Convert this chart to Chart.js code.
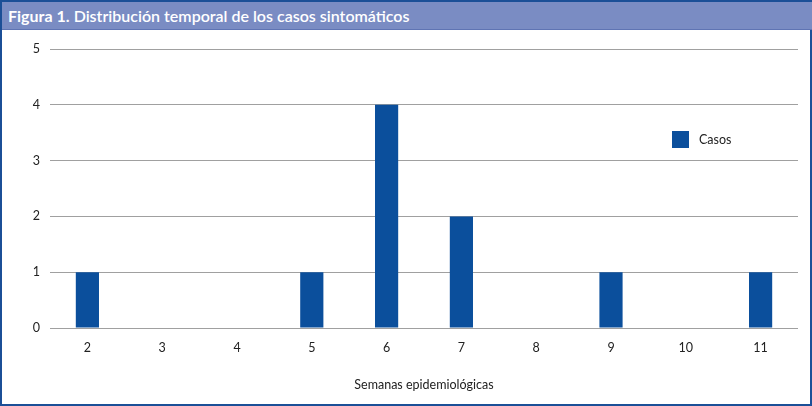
<!DOCTYPE html>
<html>
<head>
<meta charset="utf-8">
<script src="https://cdn.jsdelivr.net/npm/chart.js@4.4.1/dist/chart.umd.min.js"></script>
<style>
  html, body { margin: 0; padding: 0; background: #fff; }
  #frame {
    position: absolute; left: 0; top: 0; width: 812px; height: 406px;
    box-sizing: border-box; border: 2px solid #1b4f97; background: #fff;
  }
  #header {
    position: absolute; left: 0; top: 0; width: 808px; height: 27px;
    background: #7a8cc3; color: #fff; border-bottom: 1px solid #5f74b3;
    font-family: Lato, sans-serif; font-size: 16px; line-height: 27px;
    padding-left: 6px; box-sizing: content-box; white-space: nowrap;
  }
  #header b { font-weight: bold; }
  #header span { font-weight: 600; }
  #box { position: absolute; left: 0; top: 28px; width: 808px; height: 374px; }
</style>
</head>
<body>
<div id="frame">
  <div id="header"><b>Figura 1.</b> <span>Distribución temporal de los casos sintomáticos</span></div>
  <div id="box"><canvas id="chart"></canvas></div>
</div>
<script>
const semanas = ['2', '3', '4', '5', '6', '7', '8', '9', '10', '11'];
const casos = [1, 0, 0, 1, 4, 2, 0, 1, 0, 1];
const serieNombre = 'Casos';
const ejeX = 'Semanas epidemiológicas';

const barColor = '#0b4f9c';
const fontFam = "Lato, 'Open Sans', sans-serif";

// Leyenda dibujada dentro del area del grafico
const legendInside = {
  id: 'legendInside',
  afterDraw(chart) {
    const { ctx, chartArea } = chart;
    const x = chartArea.right - 126;
    const y = chartArea.top + 82;
    ctx.save();
    ctx.fillStyle = barColor;
    ctx.fillRect(x, y, 17, 17);
    ctx.fillStyle = '#222';
    ctx.font = '12.5px ' + fontFam;
    ctx.textBaseline = 'middle';
    ctx.fillText(serieNombre, x + 27, y + 9);
    ctx.restore();
  }
};

new Chart(document.getElementById('chart'), {
  type: 'bar',
  data: {
    labels: semanas,
    datasets: [{
      label: serieNombre,
      data: casos,
      backgroundColor: barColor,
      barPercentage: 0.62,
      categoryPercentage: 0.5
    }]
  },
  options: {
    responsive: true,
    maintainAspectRatio: false,
    animation: false,
    layout: { padding: { top: 19, right: 12, left: 0, bottom: 0 } },
    plugins: {
      legend: { display: false },
      tooltip: { enabled: false }
    },
    scales: {
      x: {
        grid: { display: false, drawTicks: false },
        border: { display: false },
        ticks: { color: '#222', padding: 12, font: { family: fontFam, size: 12.5 } },
        title: {
          display: true, text: ejeX, color: '#222',
          font: { family: fontFam, size: 12.5 }, padding: { top: 0, bottom: 12 }
        },
        afterFit(scale) { scale.height = 76; }
      },
      y: {
        min: 0, max: 5,
        grid: { color: '#a0a0a0', drawTicks: false },
        border: { display: false },
        ticks: { stepSize: 1, color: '#222', padding: 10, font: { family: fontFam, size: 12.5 } },
        afterFit(scale) { scale.width = 48; }
      }
    }
  },
  plugins: [legendInside]
});
</script>
</body>
</html>
